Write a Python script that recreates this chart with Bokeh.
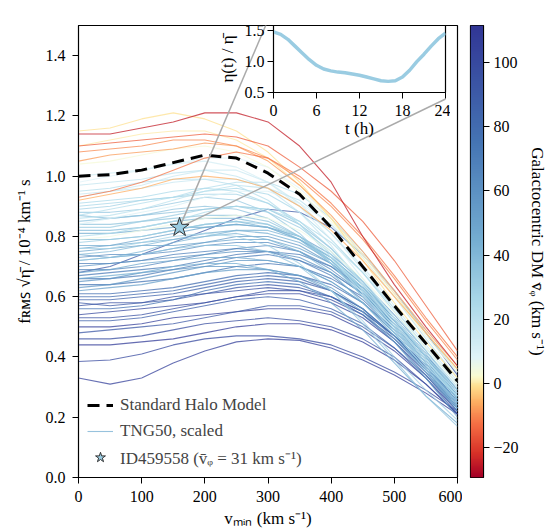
import numpy as np
from bokeh.plotting import figure
from bokeh.models import (Range1d, FixedTicker, Legend, LegendItem, GridBox,
                          LinearColorMapper, CustomJSTickFormatter, PrintfTickFormatter)
from bokeh.embed import file_html
from bokeh.resources import INLINE

# ---------------- data ----------------
v_min = [0, 50, 100, 150, 200, 250, 300, 350, 400, 450, 500, 550, 600]

shm = [1.00, 1.005, 1.02, 1.045, 1.07, 1.06, 1.01, 0.94, 0.83, 0.70, 0.57, 0.445, 0.32]

# galactocentric DM mean v_phi (km/s) for each TNG50 curve
tng_vphi = [
    105, 100, 108, 98, 92, 105, 88, 100, 78, 95, 85,
    80, 52, 75, 58, 70, 48, 65, 60, 42, 55, 50, 45, 90,
    45, 28, 35,
    40, 31, 24, 38, 30, 10, 35, 20, 32, 28, 25, 15, 22, 18, 12,
    5, 3, 0, -6, -12, -8, -10, -15, -1, -25,
    26, 36, 44, 50, 62, 68, 72, 56, 82, 90, 16, 22, 34, 40, 8, 95,
]
tng_curves = [
    [0.33, 0.31, 0.33, 0.38, 0.42, 0.45, 0.46, 0.455, 0.43, 0.39, 0.34, 0.28, 0.21],
    [0.385, 0.39, 0.41, 0.44, 0.46, 0.47, 0.47, 0.46, 0.44, 0.40, 0.35, 0.29, 0.22],
    [0.44, 0.44, 0.45, 0.46, 0.48, 0.50, 0.51, 0.51, 0.49, 0.45, 0.39, 0.31, 0.21],
    [0.46, 0.46, 0.47, 0.49, 0.51, 0.52, 0.53, 0.52, 0.50, 0.46, 0.40, 0.31, 0.21],
    [0.48, 0.49, 0.50, 0.51, 0.53, 0.55, 0.57, 0.57, 0.55, 0.50, 0.43, 0.34, 0.23],
    [0.50, 0.50, 0.51, 0.53, 0.54, 0.55, 0.56, 0.56, 0.54, 0.49, 0.42, 0.33, 0.22],
    [0.52, 0.52, 0.53, 0.55, 0.57, 0.59, 0.60, 0.59, 0.56, 0.51, 0.43, 0.33, 0.21],
    [0.54, 0.55, 0.56, 0.57, 0.58, 0.60, 0.61, 0.61, 0.58, 0.53, 0.45, 0.35, 0.23],
    [0.56, 0.56, 0.57, 0.59, 0.62, 0.64, 0.65, 0.64, 0.60, 0.54, 0.45, 0.34, 0.22],
    [0.57, 0.58, 0.58, 0.60, 0.61, 0.62, 0.63, 0.62, 0.59, 0.54, 0.46, 0.36, 0.24],
    [0.59, 0.59, 0.60, 0.61, 0.63, 0.65, 0.66, 0.65, 0.62, 0.56, 0.47, 0.36, 0.23],
    [0.61, 0.61, 0.62, 0.63, 0.65, 0.67, 0.68, 0.67, 0.64, 0.58, 0.49, 0.37, 0.24],
    [0.62, 0.63, 0.64, 0.66, 0.68, 0.69, 0.69, 0.67, 0.62, 0.55, 0.45, 0.33, 0.20],
    [0.64, 0.64, 0.65, 0.66, 0.68, 0.70, 0.71, 0.70, 0.66, 0.60, 0.50, 0.38, 0.25],
    [0.65, 0.66, 0.68, 0.69, 0.70, 0.70, 0.69, 0.67, 0.63, 0.56, 0.46, 0.35, 0.22],
    [0.66, 0.66, 0.67, 0.69, 0.71, 0.73, 0.74, 0.72, 0.68, 0.61, 0.51, 0.39, 0.26],
    [0.68, 0.69, 0.71, 0.72, 0.73, 0.73, 0.72, 0.70, 0.65, 0.58, 0.48, 0.36, 0.23],
    [0.69, 0.69, 0.70, 0.72, 0.74, 0.76, 0.77, 0.75, 0.70, 0.62, 0.52, 0.40, 0.27],
    [0.70, 0.71, 0.72, 0.73, 0.74, 0.75, 0.75, 0.73, 0.68, 0.61, 0.51, 0.39, 0.26],
    [0.72, 0.73, 0.75, 0.78, 0.80, 0.82, 0.82, 0.79, 0.73, 0.64, 0.53, 0.40, 0.26],
    [0.74, 0.73, 0.74, 0.76, 0.78, 0.80, 0.80, 0.77, 0.71, 0.62, 0.51, 0.38, 0.25],
    [0.75, 0.76, 0.77, 0.77, 0.78, 0.79, 0.79, 0.76, 0.71, 0.63, 0.53, 0.41, 0.28],
    [0.77, 0.77, 0.78, 0.79, 0.81, 0.82, 0.81, 0.78, 0.72, 0.63, 0.52, 0.40, 0.27],
    [0.68, 0.70, 0.74, 0.78, 0.82, 0.86, 0.89, 0.88, 0.83, 0.74, 0.62, 0.48, 0.34],
    [0.66, 0.67, 0.68, 0.70, 0.71, 0.71, 0.69, 0.65, 0.58, 0.49, 0.38, 0.27, 0.18],
    [0.76, 0.76, 0.78, 0.80, 0.81, 0.80, 0.77, 0.71, 0.62, 0.52, 0.40, 0.29, 0.19],
    [0.72, 0.73, 0.74, 0.76, 0.77, 0.77, 0.75, 0.70, 0.62, 0.51, 0.39, 0.27, 0.17],
    [0.79, 0.79, 0.80, 0.82, 0.84, 0.85, 0.83, 0.79, 0.72, 0.62, 0.50, 0.37, 0.24],
    [0.78, 0.79, 0.80, 0.82, 0.84, 0.85, 0.84, 0.80, 0.73, 0.63, 0.51, 0.39, 0.27],
    [0.80, 0.81, 0.83, 0.85, 0.88, 0.90, 0.89, 0.85, 0.78, 0.68, 0.56, 0.43, 0.31],
    [0.82, 0.82, 0.83, 0.85, 0.86, 0.86, 0.84, 0.79, 0.71, 0.61, 0.49, 0.37, 0.25],
    [0.83, 0.83, 0.85, 0.87, 0.89, 0.90, 0.88, 0.83, 0.75, 0.64, 0.52, 0.39, 0.27],
    [0.84, 0.86, 0.88, 0.90, 0.93, 0.95, 0.95, 0.91, 0.84, 0.74, 0.62, 0.49, 0.36],
    [0.85, 0.86, 0.87, 0.89, 0.90, 0.89, 0.86, 0.80, 0.71, 0.60, 0.48, 0.36, 0.24],
    [0.86, 0.87, 0.89, 0.92, 0.95, 0.97, 0.96, 0.92, 0.84, 0.73, 0.60, 0.46, 0.33],
    [0.88, 0.88, 0.89, 0.91, 0.93, 0.92, 0.88, 0.81, 0.71, 0.60, 0.48, 0.36, 0.25],
    [0.89, 0.90, 0.92, 0.93, 0.94, 0.94, 0.91, 0.85, 0.76, 0.65, 0.53, 0.40, 0.29],
    [0.91, 0.92, 0.93, 0.95, 0.96, 0.95, 0.91, 0.84, 0.74, 0.62, 0.50, 0.38, 0.27],
    [0.93, 0.95, 0.97, 1.00, 1.02, 1.02, 0.98, 0.91, 0.81, 0.69, 0.56, 0.43, 0.31],
    [0.95, 0.96, 0.98, 0.99, 0.99, 0.97, 0.92, 0.84, 0.73, 0.61, 0.49, 0.37, 0.27],
    [0.97, 0.98, 0.99, 1.01, 1.02, 1.00, 0.96, 0.88, 0.77, 0.64, 0.51, 0.39, 0.28],
    [1.00, 1.01, 1.02, 1.04, 1.05, 1.03, 0.98, 0.90, 0.79, 0.66, 0.53, 0.41, 0.30],
    [0.79, 0.80, 0.82, 0.84, 0.86, 0.87, 0.86, 0.82, 0.75, 0.66, 0.55, 0.43, 0.31],
    [1.04, 1.05, 1.07, 1.09, 1.10, 1.08, 1.03, 0.95, 0.85, 0.73, 0.60, 0.47, 0.35],
    [1.10, 1.12, 1.14, 1.15, 1.15, 1.12, 1.06, 0.97, 0.86, 0.74, 0.61, 0.48, 0.36],
    [0.92, 0.94, 0.96, 0.99, 1.00, 0.99, 0.96, 0.90, 0.82, 0.72, 0.60, 0.48, 0.36],
    [0.93, 0.95, 0.98, 1.02, 1.06, 1.08, 1.06, 1.00, 0.91, 0.80, 0.67, 0.53, 0.40],
    [1.05, 1.07, 1.08, 1.09, 1.11, 1.10, 1.05, 0.97, 0.87, 0.75, 0.62, 0.49, 0.37],
    [1.08, 1.09, 1.10, 1.12, 1.12, 1.10, 1.06, 0.99, 0.90, 0.79, 0.66, 0.52, 0.39],
    [1.10, 1.11, 1.12, 1.13, 1.14, 1.13, 1.10, 1.03, 0.95, 0.85, 0.72, 0.57, 0.42],
    [1.15, 1.16, 1.19, 1.21, 1.19, 1.15, 1.08, 0.98, 0.86, 0.72, 0.58, 0.45, 0.33],
    [1.14, 1.14, 1.16, 1.18, 1.21, 1.21, 1.18, 1.10, 0.98, 0.80, 0.64, 0.50, 0.37],
    [0.90, 0.91, 0.92, 0.93, 0.95, 0.96, 0.94, 0.88, 0.79, 0.68, 0.55, 0.42, 0.30],
    [0.87, 0.86, 0.87, 0.88, 0.89, 0.90, 0.89, 0.84, 0.76, 0.65, 0.53, 0.40, 0.28],
    [0.81, 0.81, 0.82, 0.83, 0.83, 0.84, 0.83, 0.79, 0.73, 0.64, 0.53, 0.41, 0.29],
    [0.76, 0.77, 0.79, 0.81, 0.83, 0.84, 0.83, 0.80, 0.74, 0.65, 0.54, 0.42, 0.29],
    [0.73, 0.74, 0.74, 0.75, 0.77, 0.78, 0.78, 0.75, 0.69, 0.61, 0.50, 0.38, 0.25],
    [0.71, 0.71, 0.72, 0.74, 0.75, 0.76, 0.75, 0.72, 0.67, 0.59, 0.49, 0.37, 0.24],
    [0.67, 0.68, 0.69, 0.70, 0.72, 0.74, 0.75, 0.74, 0.70, 0.63, 0.53, 0.41, 0.27],
    [0.63, 0.64, 0.66, 0.68, 0.70, 0.72, 0.72, 0.70, 0.65, 0.58, 0.48, 0.36, 0.23],
    [0.60, 0.60, 0.61, 0.62, 0.64, 0.66, 0.67, 0.66, 0.62, 0.56, 0.47, 0.36, 0.23],
    [0.58, 0.57, 0.58, 0.59, 0.61, 0.63, 0.64, 0.63, 0.60, 0.55, 0.47, 0.37, 0.25],
    [0.94, 0.95, 0.96, 0.98, 0.99, 0.99, 0.96, 0.90, 0.81, 0.70, 0.57, 0.44, 0.32],
    [0.87, 0.89, 0.91, 0.93, 0.96, 0.98, 0.98, 0.94, 0.86, 0.75, 0.62, 0.48, 0.35],
    [0.84, 0.84, 0.85, 0.86, 0.87, 0.87, 0.85, 0.80, 0.72, 0.62, 0.50, 0.38, 0.26],
    [0.74, 0.75, 0.77, 0.79, 0.80, 0.81, 0.79, 0.75, 0.68, 0.58, 0.47, 0.35, 0.23],
    [0.98, 1.00, 1.02, 1.04, 1.06, 1.06, 1.03, 0.96, 0.86, 0.74, 0.61, 0.47, 0.35],
    [0.53, 0.53, 0.54, 0.56, 0.58, 0.60, 0.62, 0.62, 0.60, 0.55, 0.47, 0.37, 0.25],
]

star_v, star_f, star_vphi = 160, 0.83, 31

t_hours = list(range(25))
eta_ratio = [1.48, 1.44, 1.36, 1.25, 1.14, 1.03, 0.94, 0.88, 0.85, 0.83, 0.82, 0.80,
             0.78, 0.75, 0.72, 0.69, 0.68, 0.69, 0.75, 0.86, 1.00, 1.12, 1.25, 1.37, 1.46]

x_ticks = [0, 100, 200, 300, 400, 500, 600]
y_ticks = [0.0, 0.2, 0.4, 0.6, 0.8, 1.0, 1.2, 1.4]
cb_ticks = [-20, 0, 20, 40, 60, 80, 100]
inset_x_ticks = [0, 6, 12, 18, 24]
inset_y_ticks = [0.5, 1.0, 1.5]

# ---------------- colour map (RdYlBu-like, bent around 0) ----------------
VMIN, VMAX = -29.3, 111.5
cmap_stops = [(-29.3, "#a50026"), (-22, "#d73027"), (-13, "#f46d43"), (-6, "#fdae61"),
              (-1, "#fee090"), (2, "#fbfcd0"), (8, "#e0f3f8"), (25, "#abd9e9"),
              (45, "#74add1"), (75, "#4575b4"), (111.5, "#313695")]
stop_v = np.array([s[0] for s in cmap_stops])
stop_c = np.array([[int(s[1][i:i + 2], 16) for i in (1, 3, 5)] for s in cmap_stops], float)


def vcolor(v):
    c = [np.interp(v, stop_v, stop_c[:, k]) for k in range(3)]
    return "#%02x%02x%02x" % tuple(int(round(x)) for x in c)


palette = [vcolor(v) for v in np.linspace(VMIN, VMAX, 256)]

# draw order: strongest positive first, warm curves on top
order = list(np.argsort(-np.array(tng_vphi), kind="stable"))
xs_draw = [v_min for _ in order]
ys_draw = [tng_curves[i] for i in order]
col_draw = [vcolor(tng_vphi[i]) for i in order]
legend_idx = [k for k, i in enumerate(order) if tng_vphi[i] == 45][0]

FONT = "Liberation Serif"
TICK_FS = "16px"
LAB_FS = "17px"


def style_axes(fig):
    for ax in fig.axis:
        ax.major_label_text_font = FONT
        ax.major_label_text_font_size = TICK_FS
        ax.major_label_text_color = "black"
        ax.axis_label_text_font = FONT
        ax.axis_label_text_font_size = LAB_FS
        ax.axis_label_text_font_style = "normal"
        ax.axis_label_text_color = "black"
        ax.major_tick_out = 6
        ax.major_tick_in = 0
        ax.minor_tick_out = 0
        ax.minor_tick_in = 0
        ax.major_tick_line_color = "black"
        ax.axis_line_color = "black"
        ax.major_tick_line_width = 1
        ax.major_label_standoff = 6


# ---------------- main figure ----------------
ML, MR, MT, MB = 78, 5, 22, 55
MW, MH = 462, 532
p = figure(width=MW, height=MH, x_range=Range1d(0, 600), y_range=Range1d(0, 1.5),
           output_backend="svg", toolbar_location=None,
           min_border_left=ML, min_border_right=MR, min_border_top=MT, min_border_bottom=MB)
p.grid.visible = False
p.outline_line_color = "black"
p.outline_line_width = 1.2
p.background_fill_color = "white"
p.border_fill_color = "white"

tng = p.multi_line(xs=xs_draw, ys=ys_draw, line_color=col_draw,
                   line_width=1.1, line_alpha=0.75)
shm_r = p.line(v_min, shm, line_color="black", line_width=3, line_dash="12 7")

# inset geometry in page pixels (used for the connector lines)
IN_L, IN_W, IN_T, IN_H = 269, 176, 6, 90
IN_LB = 55
IN_YR = (0.5, 1.584)
fw, fh = MW - ML - MR, MH - MT - MB


def canvas_to_main(cx, cy):
    return (cx - ML) / fw * 600, (MT + fh - cy) / fh * 1.5


def inset_to_canvas(t, e):
    return IN_L + t / 24 * IN_W, IN_T + IN_H - (e - IN_YR[0]) / (IN_YR[1] - IN_YR[0]) * IN_H


c1 = canvas_to_main(*inset_to_canvas(0, 1.5))
c2 = canvas_to_main(*inset_to_canvas(24, 0.5))
p.segment(x0=[star_v, star_v], y0=[star_f, star_f], x1=[c1[0], c2[0]], y1=[c1[1], c2[1]],
          line_color="#aaaaaa", line_width=1.5)
star_col = vcolor(star_vphi)
star_r = p.scatter([star_v], [star_f], marker="star", size=20,
                   fill_color=star_col, line_color="#333333", line_width=1)

p.xaxis.ticker = FixedTicker(ticks=x_ticks)
p.yaxis.ticker = FixedTicker(ticks=y_ticks)
p.yaxis.formatter = PrintfTickFormatter(format="%.1f")
p.xaxis.axis_label = "vₘᵢₙ (km s⁻¹)"
p.yaxis.axis_label = "fʀᴍꜱ √η̄ / 10⁻⁴ km⁻¹ s"
style_axes(p)
p.xaxis.major_label_standoff = 7
p.yaxis.major_label_standoff = 7
p.xaxis.axis_label_standoff = 4
p.yaxis.axis_label_standoff = 9

legend = Legend(items=[
    LegendItem(label="Standard Halo Model", renderers=[shm_r]),
    LegendItem(label="TNG50, scaled", renderers=[tng], index=legend_idx),
    LegendItem(label="ID459558 (v̄ᵩ = 31 km s⁻¹)", renderers=[star_r]),
], location=(5, 3), label_text_font=FONT, label_text_font_size=LAB_FS,
    background_fill_alpha=0.0, border_line_alpha=0.0, glyph_width=26, glyph_height=26,
    label_standoff=7, spacing=0, padding=4, margin=0)
p.add_layout(legend, "center")

# ---------------- colour bar figure ----------------
CBW = 87
cb = figure(width=CBW, height=MH, x_range=Range1d(0, 1), y_range=Range1d(VMIN, VMAX),
            output_backend="svg", toolbar_location=None, y_axis_location="right",
            x_axis_location=None,
            min_border_left=8, min_border_right=CBW - 8 - 17, min_border_top=25,
            min_border_bottom=MB)
cb.grid.visible = False
cb.outline_line_color = "black"
cb.outline_line_width = 1.2
mapper = LinearColorMapper(palette=palette, low=VMIN, high=VMAX)
grad = np.linspace(VMIN, VMAX, 256).reshape(256, 1)
cb.image(image=[grad], x=0, y=VMIN, dw=1, dh=VMAX - VMIN, color_mapper=mapper)
cb.yaxis.ticker = FixedTicker(ticks=cb_ticks)
cb.yaxis.formatter = CustomJSTickFormatter(
    code="return tick < 0 ? '\u2212' + Math.abs(tick) : String(tick);")
cb.yaxis.axis_label = "Galactocentric DM v̄ᵩ (km s⁻¹)"
style_axes(cb)
cb.yaxis.major_label_standoff = 4
cb.yaxis.axis_label_standoff = 6

# ---------------- inset figure ----------------
INS_W = IN_LB + IN_W + 5
INS_H = 140
ins = figure(width=INS_W, height=INS_H, x_range=Range1d(0, 24),
             y_range=Range1d(*IN_YR), output_backend="svg", toolbar_location=None,
             min_border_left=IN_LB, min_border_right=5, min_border_top=IN_T,
             min_border_bottom=INS_H - IN_T - IN_H)
ins.grid.visible = False
ins.border_fill_color = None
ins.background_fill_color = "white"
ins.outline_line_color = "black"
ins.outline_line_width = 1.2
ins.line(t_hours, eta_ratio, line_color=star_col, line_width=3.5)
ins.xaxis.ticker = FixedTicker(ticks=inset_x_ticks)
ins.yaxis.ticker = FixedTicker(ticks=inset_y_ticks)
ins.yaxis.formatter = PrintfTickFormatter(format="%.1f")
ins.xaxis.axis_label = "t (h)"
ins.yaxis.axis_label = "η(t) / η̄"
style_axes(ins)
ins.xaxis.major_label_standoff = 6
ins.yaxis.major_label_standoff = 3
ins.xaxis.axis_label_standoff = 0
ins.yaxis.axis_label_standoff = 5

col0 = IN_L - IN_LB
col2 = MW - col0 - INS_W
grid = GridBox(children=[(p, 0, 0, 2, 3), (cb, 0, 3, 2, 1), (ins, 0, 1, 1, 1)],
               cols=[f"{col0}px", f"{INS_W}px", f"{col2}px", f"{CBW}px"],
               rows=[f"{INS_H}px", f"{MH - INS_H}px"], spacing=0)

open("out.html", "w").write(file_html(grid, INLINE))
